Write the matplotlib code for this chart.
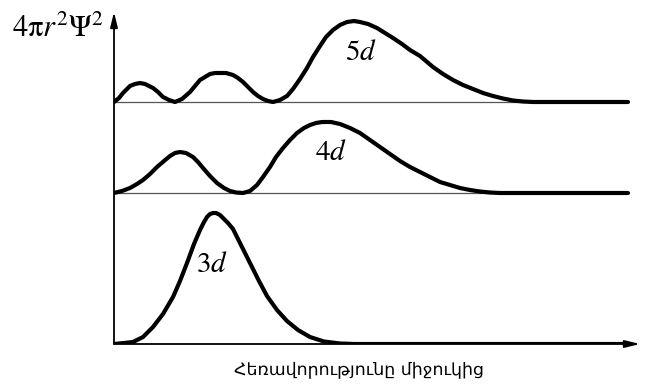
import matplotlib.pyplot as plt
import numpy as np

plt.rcParams['mathtext.fontset'] = 'stix'

# radial distance (arbitrary units) and 4*pi*r^2*psi^2 (arbitrary units), read per orbital
r_3d = [0, 10, 19, 29, 39, 49, 59, 66, 73, 80, 86, 90, 93, 96, 99, 102, 106, 110, 114,
        119, 127, 136, 145, 153, 163, 173, 184, 196, 210, 226, 240, 514]
p_3d = [0, 1, 2, 7, 17, 30, 47, 63, 81, 100, 114, 122, 127, 130, 131, 131, 129, 125, 121,
        115, 99, 81, 63, 48, 34, 23, 14, 7, 2.5, 0.5, 0, 0]

r_4d = [0, 8, 16, 23, 29, 36, 43, 50, 56, 61, 66, 72, 79, 84, 89, 96, 103, 110, 116, 122,
        129, 136, 143, 149, 156, 162, 169, 176, 183, 190, 196, 202, 208, 217, 226, 236,
        246, 256, 266, 276, 286, 296, 306, 316, 326, 336, 346, 356, 366, 376, 386, 514]
p_4d = [0, 2, 5, 9, 13, 19, 26, 32, 37, 40, 41, 40, 36, 31, 25, 17, 10, 5, 2, 0.5,
        0, 2, 8, 16, 26, 36, 45, 53, 60, 65, 68, 70, 71, 71, 69, 65,
        60, 53, 46, 39, 32, 26, 21, 16, 11, 8, 5, 3, 1.5, 0.5, 0, 0]

r_5d = [0, 5, 9, 13, 16, 21, 26, 31, 35, 39, 44, 49, 55, 61, 68, 76, 81, 86, 91, 96,
        101, 106, 112, 119, 124, 129, 134, 139, 144, 149, 154, 159, 166, 173, 179, 186,
        193, 199, 206, 212, 219, 226, 233, 240, 246, 254, 263, 271, 279, 288, 296, 306,
        319, 329, 339, 349, 359, 369, 379, 389, 399, 409, 419, 514]
p_5d = [0, 4, 9, 13, 16, 18, 19, 18, 16, 14, 10, 5, 2, 0, 3, 10, 16, 22, 25, 28,
        29, 29, 29, 27, 24, 20, 15, 10, 6, 3, 1, 0, 2, 6, 13, 23,
        34, 45, 56, 65, 72, 77, 80, 81, 80, 78, 74, 69, 64, 58, 52, 46,
        35, 28, 22, 17, 13, 9, 6, 3.5, 1.5, 0.5, 0, 0]

labels = ['3d', '4d', '5d']
series = [(r_3d, p_3d), (r_4d, p_4d), (r_5d, p_5d)]
baselines = [0, 151, 242]
label_pos = [(98, 80), (217, 192), (247, 292)]

fig = plt.figure(figsize=(6.46, 3.88), dpi=100)
ax = fig.add_axes([114 / 646, 44 / 388, 526 / 646, 332 / 388])
ax.set_xlim(0, 526)
ax.set_ylim(0, 332)
ax.axis('off')

# axes with arrow heads
arrow = dict(arrowstyle='-|>,head_width=0.22,head_length=0.9', color='black',
             lw=1.3, shrinkA=0, shrinkB=0)
ax.annotate('', xy=(0, 1), xytext=(0, 0), xycoords='axes fraction', arrowprops=arrow)
ax.annotate('', xy=(1, 0), xytext=(0, 0), xycoords='axes fraction', arrowprops=arrow)

for name, (r, p), base, (lx, ly) in zip(labels, series, baselines, label_pos):
    if base > 0:
        ax.plot([0, 514], [base, base], color='#555555', lw=0.9, zorder=1)
    ax.plot(r, np.array(p) + base, color='black', lw=3.0,
            solid_joinstyle='round', solid_capstyle='round', zorder=2)
    ax.text(lx, ly, '$%s$' % name, fontsize=21, ha='center', va='center')

fig.text(58 / 646, 1 - 28 / 388, r'$\mathrm{4\pi}r^{2}\mathrm{\Psi}^{2}$',
         fontsize=22, ha='center', va='center')
fig.text(359 / 646, 1 - 369 / 388, 'Հեռավորությունը միջուկից',
         fontsize=12.5, ha='center', va='center')

fig.savefig('out.png', dpi=100)
